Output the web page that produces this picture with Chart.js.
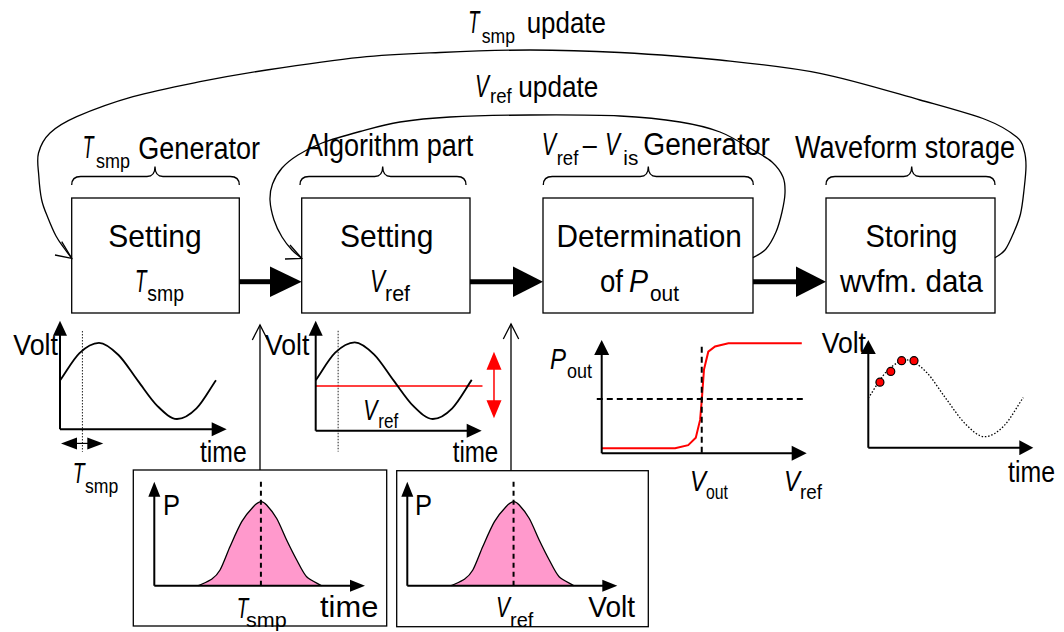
<!DOCTYPE html>
<html>
<head>
<meta charset="utf-8">
<script src="https://cdn.jsdelivr.net/npm/chart.js@4.4.1/dist/chart.umd.min.js"></script>
<style>
  html, body { margin: 0; padding: 0; background: #fff; }
  #stage { position: relative; width: 1064px; height: 632px; overflow: hidden; background: #fff; }
  #stage canvas { position: absolute; }
  #diagram { position: absolute; left: 0; top: 0; }
  #diagram text { font-family: "Liberation Sans", Arial, sans-serif; fill: #000; }
</style>
</head>
<body>
<div id="stage">
  <svg id="diagram" width="1064" height="632" xmlns="http://www.w3.org/2000/svg"></svg>
  <canvas id="plotTsmp"></canvas>
  <canvas id="plotVref"></canvas>
  <canvas id="plotPout"></canvas>
  <canvas id="plotStore"></canvas>
  <canvas id="pdfTsmp"></canvas>
  <canvas id="pdfVref"></canvas>
</div>
<script>
// ---- waveform under test (one period) ----
const waveTime = [0, 1, 2, 3, 4, 5, 6, 7, 8];
const waveVolt = [0.01, 0.73, 1, 0.68, 0, -0.66, -1, -0.72, 0.02];
// sampling instant and reference level
const tsmpMark = 1.15;
const vrefLevel = -0.14;
const vrefSwingHigh = 0.755;
const vrefSwingLow = -0.98;
// stored waveform samples
const sampleTime = [0.6, 1.16, 1.72, 2.36];
const sampleVolt = [0.42, 0.70, 0.98, 0.98];
// comparator output probability vs. reference voltage
const poutVref  = [0, 3.58, 4.22, 4.59, 4.80, 4.89, 4.99, 5.20, 5.53, 6.18, 9.76];
const poutLevel = [0, 0, 0.03, 0.10, 0.27, 0.48, 0.75, 0.92, 0.97, 1, 1];
const vOut = 4.88;
const poutHalf = 0.47;
// jitter / noise distribution
const pdfX = [2.09, 2.72, 3.12, 3.59, 4.15, 4.70, 5.06, 5.33, 5.81, 6.28, 6.76, 7.23, 7.94];
const pdfP = [0, 0.076, 0.187, 0.464, 0.762, 0.94, 1, 0.96, 0.80, 0.544, 0.306, 0.107, 0];

const pts = (xs, ys) => xs.map((x, i) => ({ x, y: ys[i] }));

// ---------- Chart.js helpers ----------
function tri(ctx, x, y, dir, len, half) {
  ctx.beginPath();
  if (dir === 'right') { ctx.moveTo(x, y); ctx.lineTo(x - len, y - half); ctx.lineTo(x - len, y + half); }
  if (dir === 'left')  { ctx.moveTo(x, y); ctx.lineTo(x + len, y - half); ctx.lineTo(x + len, y + half); }
  if (dir === 'up')    { ctx.moveTo(x, y); ctx.lineTo(x - half, y + len); ctx.lineTo(x + half, y + len); }
  if (dir === 'down')  { ctx.moveTo(x, y); ctx.lineTo(x - half, y - len); ctx.lineTo(x + half, y - len); }
  ctx.closePath();
  ctx.fill();
}

function drawAxes(ctx, a, hl, hw) {
  ctx.save();
  ctx.strokeStyle = '#000';
  ctx.fillStyle = '#000';
  ctx.lineWidth = 2;
  ctx.beginPath();
  ctx.moveTo(a.left, a.bottom); ctx.lineTo(a.right - hl + 1, a.bottom);
  ctx.moveTo(a.left, a.bottom); ctx.lineTo(a.left, a.top + hl - 1);
  ctx.stroke();
  tri(ctx, a.right, a.bottom, 'right', hl, hw);
  tri(ctx, a.left, a.top, 'up', hl, hw);
  ctx.restore();
}

function makePlot(id, rect, area, xr, yr, datasets, decor) {
  const cv = document.getElementById(id);
  cv.width = rect.w; cv.height = rect.h;
  cv.style.left = rect.left + 'px'; cv.style.top = rect.top + 'px';
  cv.style.width = rect.w + 'px'; cv.style.height = rect.h + 'px';
  return new Chart(cv, {
    type: 'line',
    data: { datasets },
    options: {
      responsive: false,
      animation: false,
      devicePixelRatio: 1,
      events: [],
      layout: { padding: {
        left: area.l - rect.left, top: area.t - rect.top,
        right: rect.left + rect.w - area.r, bottom: rect.top + rect.h - area.b } },
      scales: {
        x: { type: 'linear', min: xr[0], max: xr[1], display: false },
        y: { type: 'linear', min: yr[0], max: yr[1], display: false }
      },
      plugins: { legend: { display: false }, tooltip: { enabled: false } },
      elements: { point: { radius: 0 } }
    },
    plugins: [{
      id: 'decor',
      afterDatasetsDraw(chart) {
        const ctx = chart.ctx;
        const X = v => chart.scales.x.getPixelForValue(v);
        const Y = v => chart.scales.y.getPixelForValue(v);
        decor(ctx, chart.chartArea, X, Y);
      }
    }]
  });
}

const lineSet = (data, extra) => Object.assign({
  data, borderColor: '#000', borderWidth: 1.8, pointRadius: 0,
  fill: false, clip: false, cubicInterpolationMode: 'monotone'
}, extra || {});

// Setting Tsmp: waveform with sampling instant
makePlot('plotTsmp', { left: 50, top: 310, w: 190, h: 150 },
  { l: 60, t: 320.7, r: 226.7, b: 429.3 }, [0, 8.55], [-1.27, 1.58],
  [
    lineSet(pts(waveTime, waveVolt)),
    lineSet([{ x: tsmpMark, y: 1.31 }, { x: tsmpMark, y: -1.86 }],
      { borderWidth: 1, borderDash: [1.5, 1.5], borderColor: '#222', tension: 0, cubicInterpolationMode: 'default' })
  ],
  (ctx, a, X, Y) => {
    drawAxes(ctx, a, 15, 7);
    // sampling-interval marker
    const y = Y(-1.64), x1 = X(0.05), x2 = X(2.22);
    ctx.save();
    ctx.strokeStyle = '#000'; ctx.fillStyle = '#000'; ctx.lineWidth = 1.2;
    ctx.beginPath(); ctx.moveTo(x1 + 10, y); ctx.lineTo(x2 - 10, y); ctx.stroke();
    tri(ctx, x1, y, 'left', 16, 6);
    tri(ctx, x2, y, 'right', 16, 6);
    ctx.restore();
  });

// Setting Vref: waveform with reference level
makePlot('plotVref', { left: 305, top: 310, w: 200, h: 150 },
  { l: 315.7, t: 320.7, r: 481.7, b: 430.7 }, [0, 8.51], [-1.305, 1.563],
  [
    lineSet(pts(waveTime, waveVolt)),
    lineSet([{ x: 0, y: vrefLevel }, { x: 8.55, y: vrefLevel }],
      { borderColor: '#ff0000', borderWidth: 1.5, cubicInterpolationMode: 'default', tension: 0 }),
    lineSet([{ x: tsmpMark, y: 1.30 }, { x: tsmpMark, y: -1.85 }],
      { borderWidth: 1, borderDash: [1.5, 1.5], borderColor: '#222', tension: 0, cubicInterpolationMode: 'default' })
  ],
  (ctx, a, X, Y) => {
    drawAxes(ctx, a, 15, 7);
    const x = X(9.14), y1 = Y(vrefSwingHigh), y2 = Y(vrefSwingLow);
    ctx.save();
    ctx.strokeStyle = '#ff0000'; ctx.fillStyle = '#ff0000'; ctx.lineWidth = 1.5;
    ctx.beginPath(); ctx.moveTo(x, y1 + 10); ctx.lineTo(x, y2 - 10); ctx.stroke();
    tri(ctx, x, y1, 'up', 18, 7.5);
    tri(ctx, x, y2, 'down', 18, 7.5);
    ctx.restore();
  });

// Determination of Pout: transfer curve
makePlot('plotPout', { left: 588, top: 330, w: 226, h: 140 },
  { l: 601.7, t: 340, r: 806.7, b: 453.3 }, [0, 10], [-0.048, 1.031],
  [
    lineSet([{ x: -0.24, y: poutHalf }, { x: 10, y: poutHalf }],
      { borderWidth: 2, borderDash: [6, 4], tension: 0, cubicInterpolationMode: 'default' }),
    lineSet([{ x: vOut, y: 0.967 }, { x: vOut, y: -0.064 }],
      { borderWidth: 2, borderDash: [6, 4], tension: 0, cubicInterpolationMode: 'default' }),
    lineSet(pts(poutVref, poutLevel),
      { borderColor: '#ff0000', borderWidth: 2, tension: 0, cubicInterpolationMode: 'default' })
  ],
  (ctx, a) => drawAxes(ctx, a, 15, 7.5));

// Storing waveform data
makePlot('plotStore', { left: 858, top: 330, w: 190, h: 125 },
  { l: 868.3, t: 340, r: 1033.3, b: 447.7 }, [0, 8.52], [-1.287, 1.52],
  [
    {
      data: pts(sampleTime, sampleVolt), showLine: false, clip: false,
      pointRadius: 4, pointBackgroundColor: '#ff0000', pointBorderColor: '#000', pointBorderWidth: 1.2
    },
    lineSet(pts(waveTime, waveVolt), { borderWidth: 1.3, borderDash: [1.5, 1.8] })
  ],
  (ctx, a) => drawAxes(ctx, a, 14, 7.5));

// Probability distributions
function pdfPlot(id, rect, area) {
  makePlot(id, rect, area, [0, 10], [0, 1.238],
    [
      lineSet(pts(pdfX, pdfP),
        { borderWidth: 1.3, fill: 'origin', backgroundColor: '#ff99cc', tension: 0.25, cubicInterpolationMode: 'default' })
    ],
    (ctx, a, X, Y) => {
      const peak = pdfX[pdfP.indexOf(Math.max(...pdfP))];
      ctx.save();
      ctx.strokeStyle = '#000'; ctx.lineWidth = 2; ctx.setLineDash([5, 4]);
      ctx.beginPath(); ctx.moveTo(X(peak), Y(0)); ctx.lineTo(X(peak), Y(1.238)); ctx.stroke();
      ctx.restore();
      drawAxes(ctx, a, 15, 6);
    });
}
pdfPlot('pdfTsmp', { left: 140, top: 474, w: 235, h: 120 }, { l: 154.3, t: 481.7, r: 365, b: 585.7 });
pdfPlot('pdfVref', { left: 400, top: 474, w: 225, h: 120 }, { l: 407.3, t: 481.7, r: 617.3, b: 585.7 });

// ---------- block diagram ----------
const NS = 'http://www.w3.org/2000/svg';
const svg = document.getElementById('diagram');
function el(tag, attrs, text) {
  const e = document.createElementNS(NS, tag);
  for (const k in attrs) e.setAttribute(k, attrs[k]);
  if (text !== undefined) e.textContent = text;
  svg.appendChild(e);
  return e;
}
function label(str, x1, x2, base, size, italic) {
  el('text', {
    x: x1, y: base, 'font-size': size, textLength: (x2 - x1).toFixed(1),
    lengthAdjust: 'spacingAndGlyphs', 'font-style': italic ? 'italic' : 'normal'
  }, str);
}
function smoothPath(p) {
  let d = `M${p[0][0]} ${p[0][1]}`;
  for (let i = 0; i < p.length - 1; i++) {
    const p0 = p[i - 1] || p[i], p1 = p[i], p2 = p[i + 1], p3 = p[i + 2] || p2;
    const c1 = [p1[0] + (p2[0] - p0[0]) / 6, p1[1] + (p2[1] - p0[1]) / 6];
    const c2 = [p2[0] - (p3[0] - p1[0]) / 6, p2[1] - (p3[1] - p1[1]) / 6];
    d += ` C${c1[0].toFixed(1)} ${c1[1].toFixed(1)} ${c2[0].toFixed(1)} ${c2[1].toFixed(1)} ${p2[0]} ${p2[1]}`;
  }
  return d;
}
const thin = { fill: 'none', stroke: '#000', 'stroke-width': 1.3 };

// process boxes
[[71.7, 239.3], [301.7, 470], [543, 753], [826, 995]].forEach(([x1, x2]) =>
  el('rect', Object.assign({ x: x1, y: 198, width: x2 - x1, height: 115 }, thin)));

// braces above the boxes
function brace(x1, x2, cx) {
  const y = 176.5, tip = 166.5, end = 185;
  el('path', Object.assign({ d:
    `M${x1} ${end} Q${x1} ${y} ${x1 + 9} ${y} L${cx - 8} ${y} Q${cx} ${y} ${cx} ${tip} ` +
    `Q${cx} ${y} ${cx + 8} ${y} L${x2 - 9} ${y} Q${x2} ${y} ${x2} ${end}` }, thin));
}
brace(71.7, 239.3, 155);
brace(300, 466, 382.7);
brace(543.3, 753.3, 648.3);
brace(826, 995, 911.7);

// thick flow arrows between boxes
function flowArrow(x1, base, tip) {
  const y = 281.7;
  el('line', { x1, y1: y, x2: base + 1, y2: y, stroke: '#000', 'stroke-width': 5 });
  el('polygon', { points: `${base},${y - 15.3} ${tip},${y} ${base},${y + 15.3}`, fill: '#000' });
}
flowArrow(239.3, 270, 301.7);
flowArrow(470, 513, 543);
flowArrow(753, 796, 826);

// feedback loops
el('path', Object.assign({ d: smoothPath([
  [995, 257.7], [1005, 250], [1014, 232], [1020.5, 214], [1024, 190], [1026, 166], [1024, 150],
  [1016.7, 137], [986.7, 120], [920, 100], [820, 73.3], [720, 60], [620, 52.5], [530, 50],
  [440, 52.5], [360, 57.3], [266.7, 70], [200, 81.7], [133, 96.7], [76.7, 116.7], [50, 133],
  [38.5, 153], [38.8, 176], [41.7, 200], [48, 218], [56, 236], [64, 248], [71.7, 258.3]
]) }, thin));
el('polyline', Object.assign({ points: '55,255 71.7,258.3 61.7,241.7' }, thin));

el('path', Object.assign({ d: smoothPath([
  [753, 257.7], [766, 249], [776, 232], [782, 212], [785, 193], [783, 177], [772, 162],
  [753, 150], [720, 132], [680, 122], [620, 116], [530, 115], [450, 117], [400, 122],
  [360, 131.5], [322, 143], [298, 155], [282, 168], [272.5, 184], [270, 200], [274, 220],
  [282, 237], [292, 250], [301.7, 258.3]
]) }, thin));
el('polyline', Object.assign({ points: '285,259 301.7,258.3 290,245' }, thin));

// arrows from the distributions up to the setting stages
function openArrow(x, yTip, yBase) {
  el('line', Object.assign({ x1: x, y1: yBase, x2: x, y2: yTip }, thin));
  el('polyline', Object.assign({ points: `${x - 7.7},${yTip + 15} ${x},${yTip} ${x + 7.7},${yTip + 15}` }, thin));
}
openArrow(260, 325, 470);
openArrow(511, 324, 470.7);

// distribution frames
el('rect', Object.assign({ x: 133.3, y: 470, width: 253.4, height: 156 }, thin));
el('rect', Object.assign({ x: 396.7, y: 470.7, width: 251.6, height: 156 }, thin));

// ---------- text ----------
// loop titles
label('T', 468.3, 479.5, 33.3, 32, true);
label('smp', 481.7, 515, 42.7, 21);
label('update', 526.7, 606, 33.3, 30);
label('V', 475, 489, 96.7, 32, true);
label('ref', 490, 511.7, 103.3, 21);
label('update', 518.3, 598.3, 96.7, 30);
// stage titles
label('T', 82.7, 93.5, 158.3, 31, true);
label('smp', 96, 130, 168.3, 21);
label('Generator', 138.3, 260, 159.3, 31);
label('Algorithm part', 305, 473.3, 156, 31);
label('V', 541.7, 556, 155, 31, true);
label('ref', 556.7, 578.3, 165, 21);
label('\u2013', 582.7, 596.7, 155, 31);
label('V', 605, 620, 155, 31, true);
label('is', 623.3, 638.3, 165, 21);
label('Generator', 643.3, 770, 155, 31);
label('Waveform storage', 795, 1015, 158.3, 31);
// box contents
label('Setting', 108.3, 201.7, 246.7, 32);
label('T', 135, 146.5, 291.7, 32, true);
label('smp', 147.3, 184, 300.7, 22);
label('Setting', 340, 433.3, 246.7, 32);
label('V', 370, 385, 291.7, 32, true);
label('ref', 385, 410, 300.7, 22);
label('Determination', 556.6, 741.9, 247, 32);
label('of', 600, 623, 291.7, 32);
label('P', 629, 648, 291.7, 32, true);
label('out', 650, 679, 300.7, 22);
label('Storing', 865.5, 957.5, 246.7, 32);
label('wvfm. data', 840, 983, 291.7, 32);
// plot labels
label('Volt', 13.3, 58, 355, 30);
label('time', 200, 246.7, 461.7, 30);
label('T', 72.7, 84.5, 482.7, 30, true);
label('smp', 85, 118.3, 493.3, 21);
label('Volt', 265, 309.3, 355, 30);
label('V', 363.3, 377.5, 420, 30, true);
label('ref', 378.3, 398.3, 428.3, 21);
label('time', 452.7, 498.3, 461.7, 30);
label('P', 550, 566, 369, 30, true);
label('out', 567, 592, 378, 21);
label('V', 690, 706, 491, 30, true);
label('out', 706, 728, 499, 21);
label('V', 784, 800, 491, 30, true);
label('ref', 800, 822, 499, 21);
label('Volt', 821.7, 866, 353.3, 30);
label('time', 1008, 1055, 481.7, 30);
label('P', 163, 180, 515, 30);
label('T', 236.7, 248.3, 618.3, 30, true);
label('smp', 246, 286.7, 627, 21);
label('time', 320, 378.3, 616.7, 30);
label('P', 415, 432, 515, 30);
label('V', 496, 510, 616.7, 30, true);
label('ref', 510, 533.3, 627, 21);
label('Volt', 588.3, 635, 616.7, 30);
</script>
</body>
</html>
